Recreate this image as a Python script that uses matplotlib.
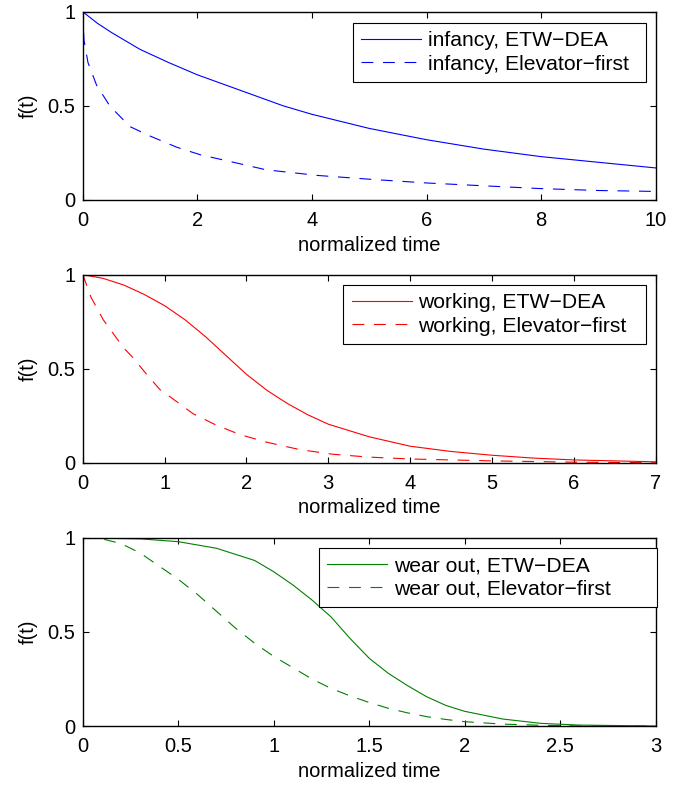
import matplotlib
matplotlib.use('Agg')
import matplotlib.pyplot as plt

plt.rcParams['font.family'] = ['Liberation Sans', 'DejaVu Sans']
plt.rcParams['lines.scale_dashes'] = False

# infancy (normalized time 0..10)
inf_t = [0, 0.25, 0.5, 1, 1.5, 2, 2.5, 3, 3.5, 4, 5, 6, 7, 8, 9, 10]
inf_etw = [1.0, 0.94, 0.89, 0.80, 0.73, 0.665, 0.61, 0.555, 0.50, 0.455, 0.38, 0.32, 0.27, 0.23, 0.20, 0.17]
inf_elev_t = [0, 0.02, 0.09, 0.24, 0.47, 0.82, 1.17, 1.64, 2.05, 2.63, 3.2, 4.1, 5, 6, 7, 8, 9, 10]
inf_elev = [1.0, 0.85, 0.73, 0.61, 0.50, 0.39, 0.34, 0.28, 0.24, 0.20, 0.16, 0.13, 0.11, 0.09, 0.075, 0.06, 0.05, 0.045]

# working (normalized time 0..7)
work_t = [0, 0.25, 0.5, 0.75, 1, 1.25, 1.5, 1.75, 2, 2.25, 2.5, 2.75, 3, 3.5, 4, 4.5, 5, 5.5, 6, 7]
work_etw = [1.0, 0.98, 0.945, 0.895, 0.835, 0.76, 0.67, 0.57, 0.47, 0.385, 0.315, 0.255, 0.205, 0.138, 0.088, 0.06, 0.04, 0.025, 0.015, 0.005]
work_elev_t = [0, 0.1, 0.25, 0.5, 0.61, 0.78, 0.94, 1.1, 1.35, 1.63, 1.92, 2.24, 2.65, 3.06, 3.5, 4, 5, 6, 7]
work_elev = [1.0, 0.88, 0.76, 0.61, 0.56, 0.47, 0.39, 0.34, 0.26, 0.20, 0.15, 0.11, 0.07, 0.045, 0.03, 0.02, 0.01, 0.003, 0.0]

# wear out (normalized time 0..3)
wear_t = [0, 0.3, 0.5, 0.7, 0.9, 1.0, 1.1, 1.2, 1.3, 1.4, 1.5, 1.6, 1.7, 1.8, 1.9, 2.0, 2.2, 2.4, 2.6, 3.0]
wear_etw = [1.0, 0.995, 0.98, 0.945, 0.88, 0.82, 0.75, 0.67, 0.58, 0.465, 0.36, 0.28, 0.215, 0.156, 0.11, 0.078, 0.037, 0.014, 0.005, 0.0]
wear_elev_t = [0, 0.1, 0.2, 0.3, 0.4, 0.5, 0.6, 0.7, 0.8, 0.9, 1.0, 1.1, 1.2, 1.3, 1.4, 1.5, 1.6, 1.7, 1.8, 1.9, 2.0, 2.2, 2.4, 2.6, 3.0]
wear_elev = [1.0, 0.995, 0.97, 0.92, 0.85, 0.78, 0.70, 0.61, 0.52, 0.44, 0.37, 0.31, 0.25, 0.20, 0.16, 0.125, 0.094, 0.07, 0.05, 0.035, 0.023, 0.01, 0.004, 0.0, 0.0]

# legend boxes (x0, y0, width, top) in axes fractions, matched to the original
panels = [
    (inf_t, inf_etw, inf_elev_t, inf_elev, 'infancy', 'blue', 10, [0, 2, 4, 6, 8, 10], (0.471, 0.0, 0.513, 0.941)),
    (work_t, work_etw, work_elev_t, work_elev, 'working', 'red', 7, [0, 1, 2, 3, 4, 5, 6, 7], (0.455, 0.0, 0.529, 0.945)),
    (wear_t, wear_etw, wear_elev_t, wear_elev, 'wear out', (0, 0.5, 0), 3, [0, 0.5, 1, 1.5, 2, 2.5, 3], (0.412, 0.0, 0.590, 0.947)),
]

fig = plt.figure(figsize=(6.96, 7.87), dpi=100)
bottoms = [0.746, 0.412, 0.0775]
fs = 14.5

for (t1, y1, t2, y2, name, col, xmax, xt, lbox), b in zip(panels, bottoms):
    ax = fig.add_axes([0.119, b, 0.823, 0.239])
    ax.plot(t1, y1, color=col, lw=0.8, label=name + ', ETW\u2212DEA')
    ax.plot(t2, y2, color=col, lw=0.8, dashes=(8.5, 7), label=name + ', Elevator\u2212first')
    ax.set_xlim(0, xmax)
    ax.set_ylim(0, 1)
    ax.set_xticks(xt)
    ax.set_xticklabels([('%g' % v) for v in xt])
    ax.set_yticks([0, 0.5, 1])
    ax.set_yticklabels(['0', '0.5', '1'])
    ax.tick_params(direction='in', top=True, right=True, length=4, width=0.8, labelsize=fs)
    ax.tick_params(axis='x', pad=8)
    ax.tick_params(axis='y', pad=5.5)
    for s in ax.spines.values():
        s.set_linewidth(1.0)
    ax.set_xlabel('normalized time', fontsize=fs, labelpad=4)
    ax.set_ylabel('f(t)', fontsize=fs, labelpad=7)
    leg = ax.legend(loc='upper left', bbox_to_anchor=lbox, mode='expand', borderaxespad=0, fontsize=15.2,
                    fancybox=False, framealpha=1, edgecolor='black', handlelength=2.85,
                    labelspacing=0.2, borderpad=0.4, handletextpad=0.3)
    leg.get_frame().set_linewidth(0.8)

fig.savefig('out.png', dpi=100)
